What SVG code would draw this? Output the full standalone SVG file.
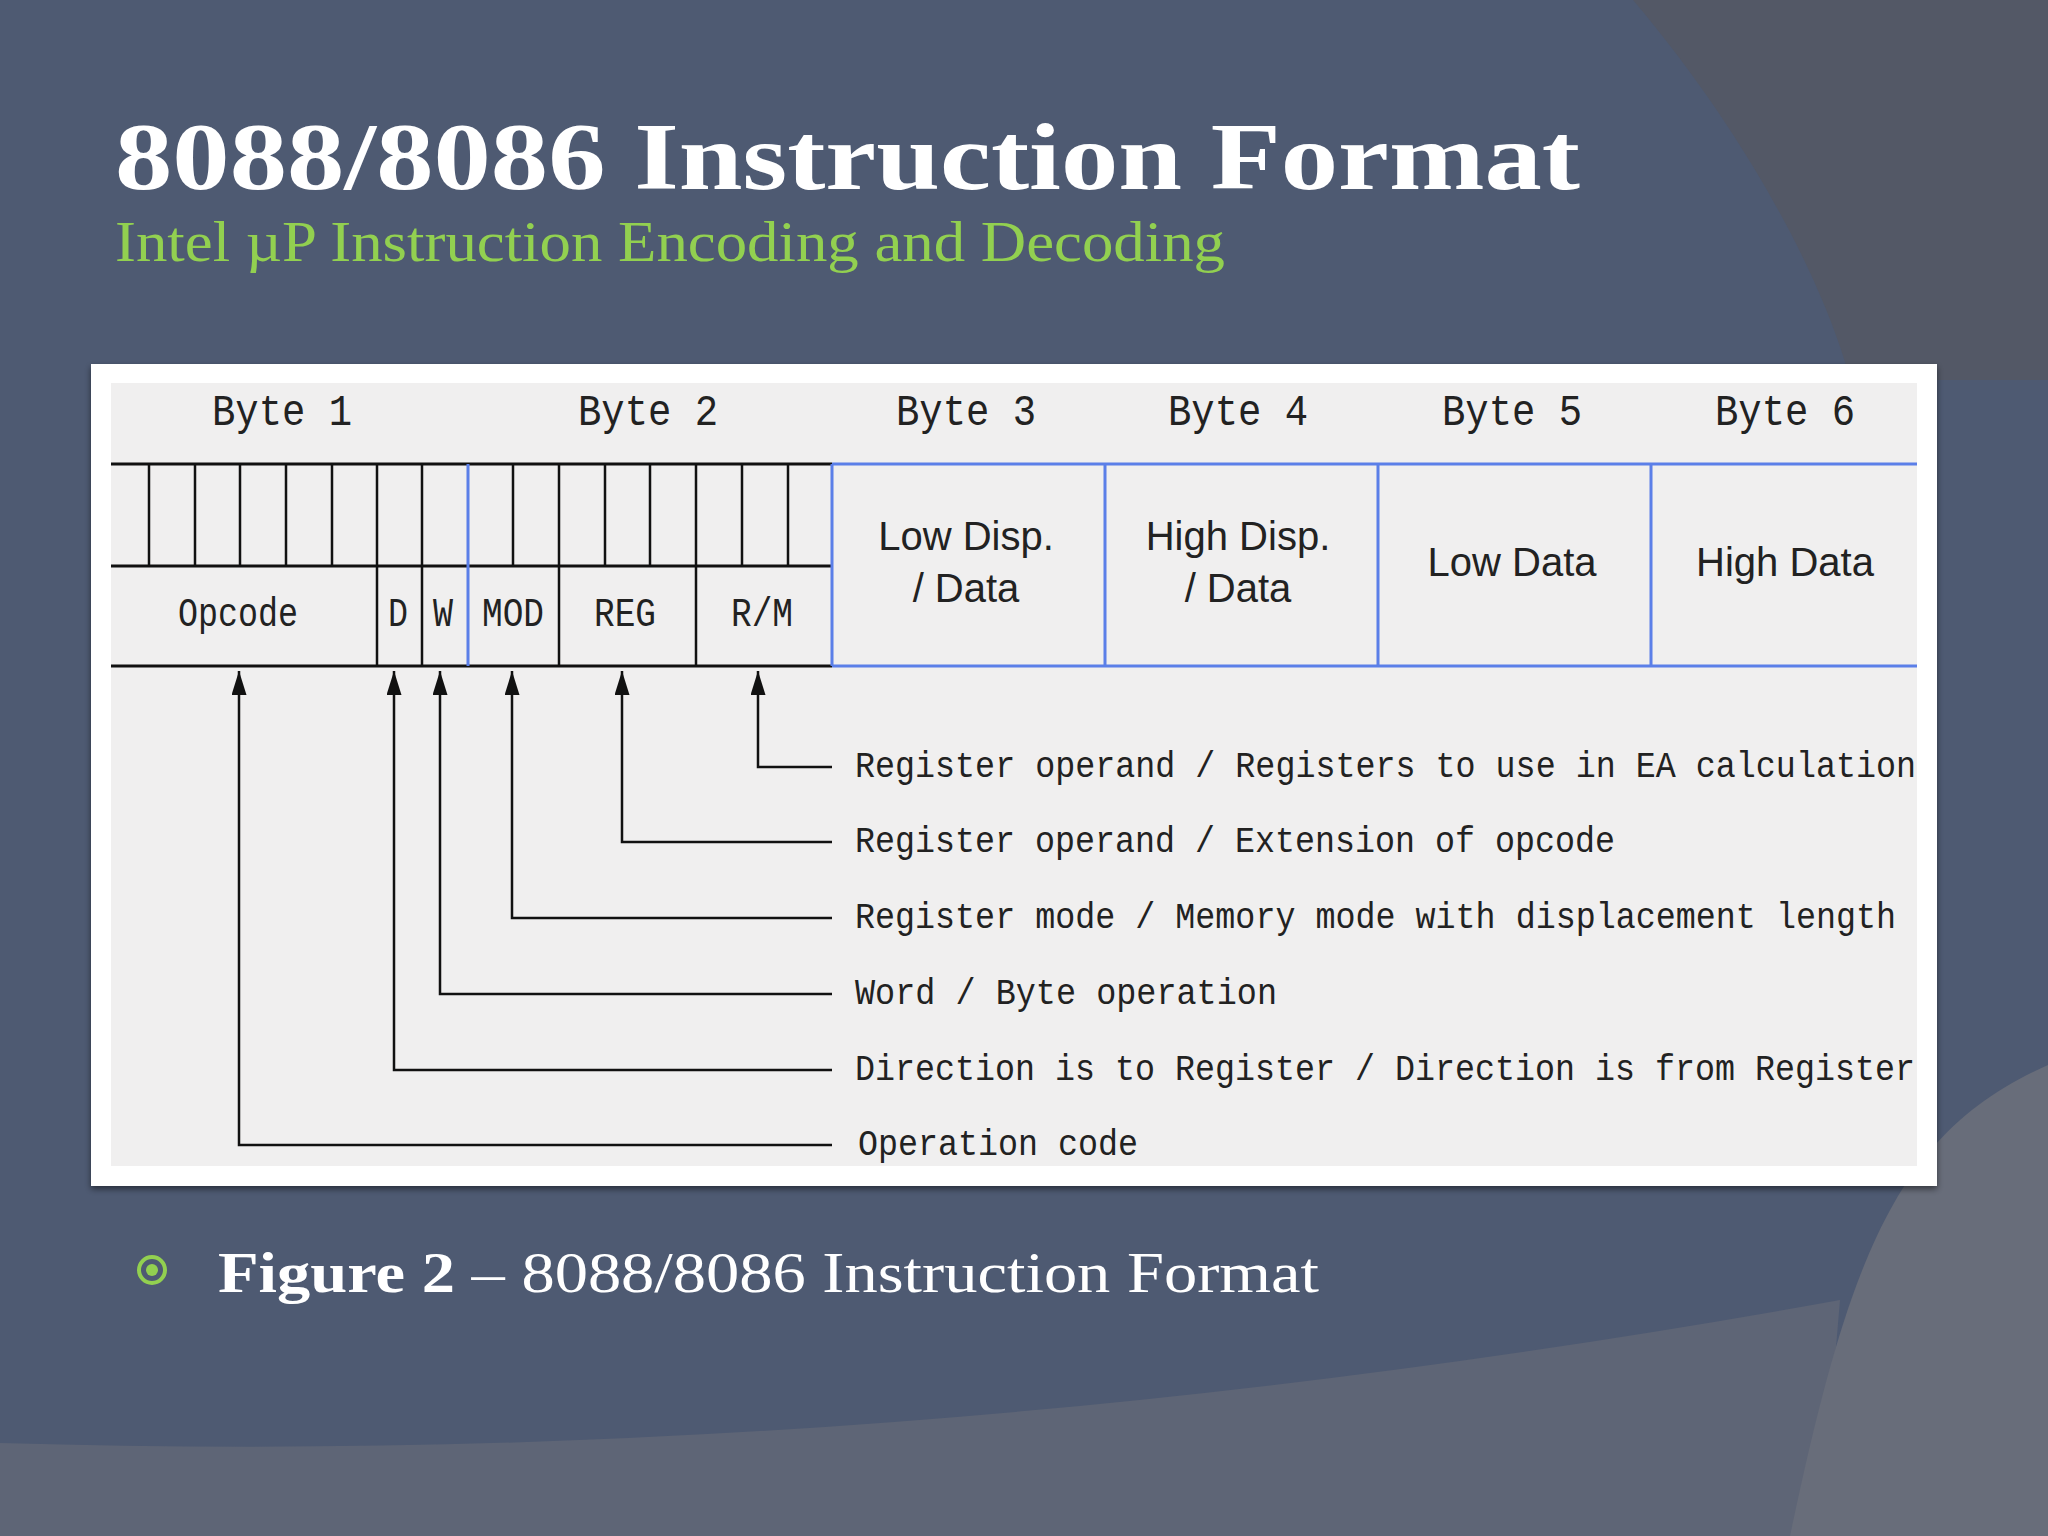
<svg xmlns="http://www.w3.org/2000/svg" width="2048" height="1536" viewBox="0 0 2048 1536">
<defs>
<marker id="ah" viewBox="0 0 16 10" refX="16" refY="5" markerWidth="24" markerHeight="15" markerUnits="userSpaceOnUse" orient="auto-start-reverse"><path d="M0,0 L16,5 L0,10 Z" fill="#111"/></marker>
<filter id="sh" x="-5%" y="-5%" width="110%" height="110%"><feDropShadow dx="0" dy="3" stdDeviation="3" flood-color="#000" flood-opacity="0.5"/></filter>
</defs>
<style>
.k{stroke:#111;stroke-width:3;fill:none}
.b{stroke:#5b7fe8;stroke-width:3;fill:none}
.c{stroke:#111;stroke-width:2.5;fill:none}
.m{font-family:"Liberation Mono","DejaVu Sans Mono",monospace;fill:#222}
.s{font-family:"Liberation Sans",Arial,sans-serif;fill:#222;font-size:40px;text-anchor:middle}
.serif{font-family:"Liberation Serif","DejaVu Serif",serif}
</style>
<rect width="2048" height="1536" fill="#4e5a72"/>
<path d="M1633,0 C1760,150 1830,300 1850,380 L2048,380 L2048,0 Z" fill="#535866"/>
<path d="M0,1443 Q900,1470 1840,1300 L1820,1536 L0,1536 Z" fill="#5e6576"/>
<path d="M2048,1065 C1900,1130 1850,1250 1790,1536 L2048,1536 Z" fill="#686d7a"/>
<text class="serif" x="115" y="189" font-size="96" font-weight="bold" fill="#fff" textLength="1465" lengthAdjust="spacingAndGlyphs">8088/8086 Instruction Format</text>
<text class="serif" x="115" y="261" font-size="58" fill="#92d050" textLength="1110" lengthAdjust="spacingAndGlyphs">Intel µP Instruction Encoding and Decoding</text>
<g id="panel">
<rect x="91" y="364" width="1846" height="822" fill="#fff" filter="url(#sh)"/>
<rect x="111" y="383" width="1806" height="783" fill="#f0efef"/>
</g>
<g id="bytelabels" class="m" font-size="44" text-anchor="middle">
<text x="282" y="425" textLength="140" lengthAdjust="spacingAndGlyphs">Byte 1</text><text x="648" y="425" textLength="140" lengthAdjust="spacingAndGlyphs">Byte 2</text><text x="966" y="425" textLength="140" lengthAdjust="spacingAndGlyphs">Byte 3</text><text x="1238" y="425" textLength="140" lengthAdjust="spacingAndGlyphs">Byte 4</text><text x="1512" y="425" textLength="140" lengthAdjust="spacingAndGlyphs">Byte 5</text><text x="1785" y="425" textLength="140" lengthAdjust="spacingAndGlyphs">Byte 6</text>
</g>
<g id="bits">
<line class="k" x1="111" y1="464" x2="832" y2="464"/>
<line class="k" x1="111" y1="566" x2="832" y2="566"/>
<line class="k" x1="111" y1="666" x2="832" y2="666"/>
<path class="c" d="M149,464V566M195,464V566M240,464V566M286,464V566M332,464V566M377,464V666M422,464V666M513,464V566M559,464V666M605,464V566M650,464V566M696,464V666M742,464V566M788,464V566"/>
<path class="b" d="M468,464V666M832,464V666"/>
</g>
<g id="fields" class="m" font-size="40" text-anchor="middle">
<text x="238" y="626" textLength="120" lengthAdjust="spacingAndGlyphs">Opcode</text>
<text x="398" y="626" textLength="20" lengthAdjust="spacingAndGlyphs">D</text><text x="443" y="626" textLength="20" lengthAdjust="spacingAndGlyphs">W</text>
<text x="513" y="626" textLength="62" lengthAdjust="spacingAndGlyphs">MOD</text>
<text x="625" y="626" textLength="62" lengthAdjust="spacingAndGlyphs">REG</text>
<text x="762" y="626" textLength="62" lengthAdjust="spacingAndGlyphs">R/M</text>
</g>
<g id="bytes36">
<path class="b" d="M832,464H1917M832,666H1917M1105,464V666M1378,464V666M1651,464V666"/>
<text class="s" x="966" y="550">Low Disp.</text><text class="s" x="966" y="602">/ Data</text>
<text class="s" x="1238" y="550">High Disp.</text><text class="s" x="1238" y="602">/ Data</text>
<text class="s" x="1512" y="576">Low Data</text>
<text class="s" x="1785" y="576">High Data</text>
</g>
<g id="connectors">
<path class="c" marker-start="url(#ah)" d="M758,671V767H832"/>
<path class="c" marker-start="url(#ah)" d="M622,671V842H832"/>
<path class="c" marker-start="url(#ah)" d="M512,671V918H832"/>
<path class="c" marker-start="url(#ah)" d="M440,671V994H832"/>
<path class="c" marker-start="url(#ah)" d="M394,671V1070H832"/>
<path class="c" marker-start="url(#ah)" d="M239,671V1145H832"/>
</g>
<g id="descriptions" class="m" font-size="36">
<text x="855" y="777" textLength="1061" lengthAdjust="spacingAndGlyphs">Register operand / Registers to use in EA calculation</text>
<text x="855" y="852" textLength="760" lengthAdjust="spacingAndGlyphs">Register operand / Extension of opcode</text>
<text x="855" y="928" textLength="1041" lengthAdjust="spacingAndGlyphs">Register mode / Memory mode with displacement length</text>
<text x="855" y="1004" textLength="422" lengthAdjust="spacingAndGlyphs">Word / Byte operation</text>
<text x="855" y="1080" textLength="1060" lengthAdjust="spacingAndGlyphs">Direction is to Register / Direction is from Register</text>
<text x="858" y="1155" textLength="280" lengthAdjust="spacingAndGlyphs">Operation code</text>
</g>
<g id="caption">
<circle cx="152" cy="1270" r="13" fill="none" stroke="#92d050" stroke-width="4"/>
<circle cx="152" cy="1270" r="6" fill="#92d050"/>
<text class="serif" x="218" y="1292" font-size="58" fill="#fff" textLength="1101" lengthAdjust="spacingAndGlyphs"><tspan font-weight="bold">Figure 2</tspan> – 8088/8086 Instruction Format</text>
</g>
</svg>
